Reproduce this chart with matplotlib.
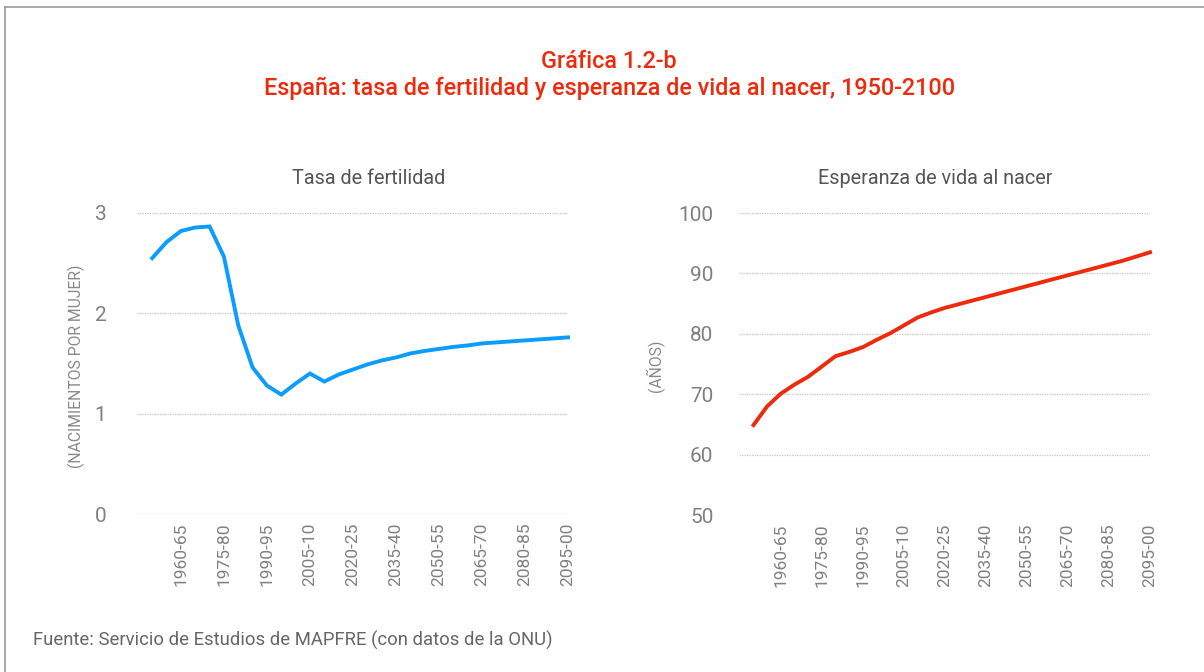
import matplotlib
matplotlib.use("Agg")
import matplotlib.pyplot as plt
from matplotlib.lines import Line2D

plt.rcParams['font.family'] = ['Roboto', 'DejaVu Sans']

# periodos quinquenales 1950-55 ... 2095-00
periodos = ["%d-%02d" % (a, (a + 5) % 100) for a in range(1950, 2100, 5)]

fertilidad = [2.55, 2.71, 2.82, 2.855, 2.865, 2.565, 1.88, 1.46, 1.28, 1.19,
              1.30, 1.40, 1.32, 1.39, 1.44, 1.49, 1.53, 1.56, 1.60, 1.625,
              1.645, 1.665, 1.68, 1.70, 1.71, 1.72, 1.73, 1.74, 1.75, 1.76]

esperanza = [64.9, 68.0, 70.1, 71.6, 72.9, 74.6, 76.3, 77.0, 77.8, 79.0,
             80.1, 81.4, 82.7, 83.55, 84.3, 84.9, 85.5, 86.1, 86.7, 87.3,
             87.9, 88.5, 89.1, 89.7, 90.3, 90.9, 91.5, 92.1, 92.8, 93.5]

ticks_fert = [0, 1, 2, 3]
ticks_esp = [50, 60, 70, 80, 90, 100]

ROJO = '#ee2a0c'
AZUL = '#0a9cff'
GRIS = '#808080'

fig = plt.figure(figsize=(12.04, 6.72), dpi=100)

# marco de la figura (arriba e izquierda)
fig.add_artist(Line2D([0.004, 1.0], [0.9895, 0.9895], color='#999999', lw=1.2))
fig.add_artist(Line2D([0.0045, 0.0045], [0.0, 0.9895], color='#999999', lw=1.2))

fig.text(0.506, 0.908, "Gráfica 1.2-b", color=ROJO, fontsize=16.8,
         fontweight='medium', ha='center', va='center')
fig.text(0.506, 0.869, "España: tasa de fertilidad y esperanza de vida al nacer, 1950-2100",
         color=ROJO, fontsize=16.8, fontweight='medium', ha='center', va='center')

x = list(range(len(periodos)))


def panel(rect, valores, color, ticks, ylabel, ylabel_x, titulo, titulo_x, pad):
    ax = fig.add_axes(rect)
    ax.plot(x, valores, color=color, lw=2.8, solid_joinstyle='miter', clip_on=False)
    ax.set_xlim(-1.06, 29)
    ax.set_ylim(ticks[0], ticks[-1])
    ax.set_yticks(ticks)
    ax.set_xticks(x[2::3])
    ax.set_xticklabels(periodos[2::3], rotation=90)
    for s in ax.spines.values():
        s.set_visible(False)
    ax.tick_params(length=0, colors=GRIS)
    ax.tick_params(axis='y', pad=pad, labelsize=15)
    ax.tick_params(axis='x', pad=6, labelsize=12.5)
    ax.grid(axis='y', color='#c4c4c4', linestyle=(0, (1, 1)), lw=0.9)
    ax.set_axisbelow(True)
    fig.text(ylabel_x, 0.455, ylabel, rotation=90, color='#8a8a8a',
             fontsize=11.3, ha='center', va='center')
    fig.text(titulo_x, 0.735, titulo, color='#555555', fontsize=14.3,
             ha='center', va='center')
    return ax


panel([0.1138, 0.2351, 0.358, 0.448], fertilidad, AZUL, ticks_fert,
      "(NACIMIENTOS POR MUJER)", 0.0637, "Tasa de fertilidad", 0.306, 22)
panel([0.6138, 0.2336, 0.3414, 0.4494], esperanza, ROJO, ticks_esp,
      "(AÑOS)", 0.5446, "Esperanza de vida al nacer", 0.777, 18.5)

fig.text(0.027, 0.047, "Fuente: Servicio de Estudios de MAPFRE (con datos de la ONU)",
         color='#666666', fontsize=13.3, ha='left', va='center')

fig.savefig("out.png", dpi=100, facecolor='white')
